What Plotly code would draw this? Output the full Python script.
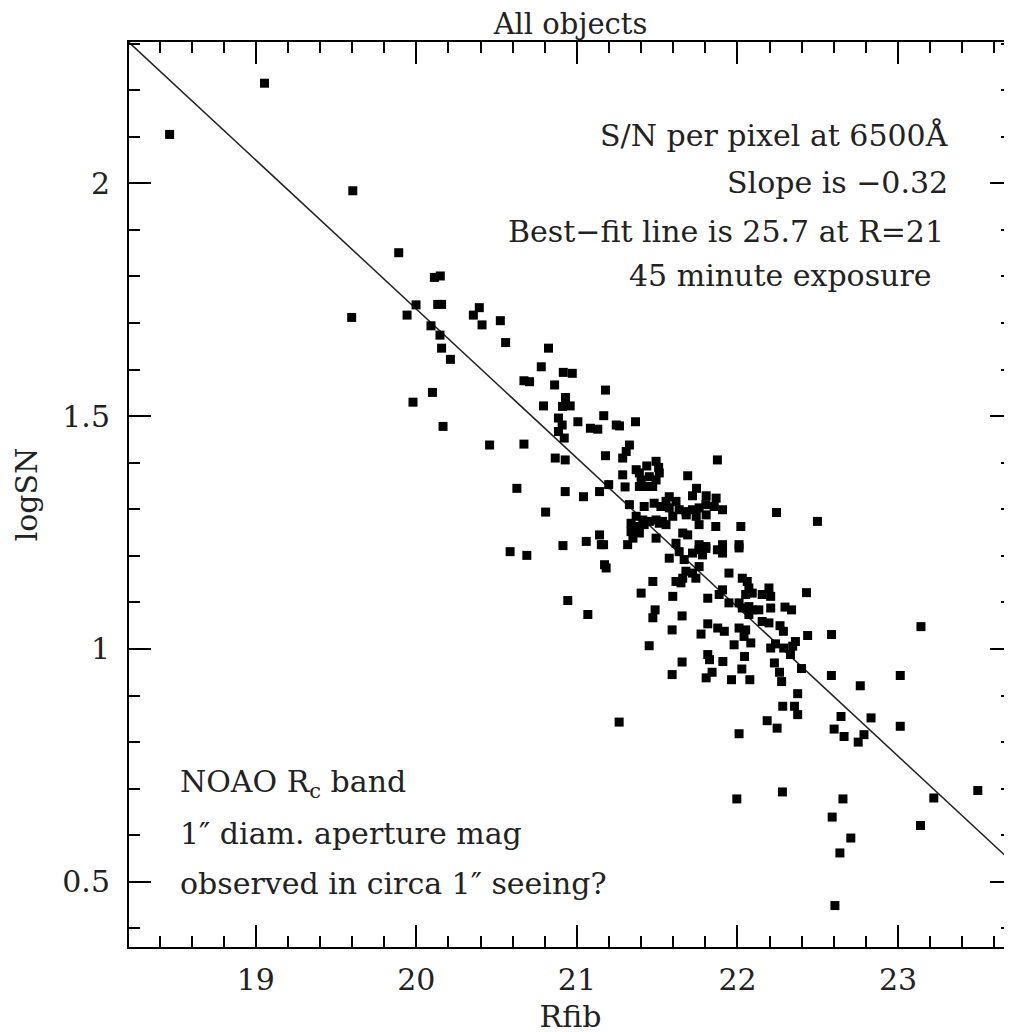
import math
import plotly.graph_objects as go

# ---- data ----
rfib = [
    18.463, 19.054, 19.604, 19.890, 20.112, 20.149, 19.597, 19.998, 19.942, 20.133,
    20.157, 20.091, 20.147, 20.157, 20.212, 20.355, 20.392, 20.409, 20.523, 20.556,
    20.823, 20.778, 20.915, 20.971, 20.670, 20.705, 20.861, 21.178, 20.100, 19.979,
    20.929, 20.910, 20.958, 20.792, 20.166, 20.885, 20.908, 20.885, 20.921, 21.006,
    21.167, 21.084, 21.130, 21.245, 21.265, 21.365, 20.456, 20.670, 20.865, 20.927,
    21.178, 21.327, 21.307, 21.285, 21.369, 21.285, 21.198, 21.141, 21.300, 20.626,
    20.927, 21.041, 21.327, 20.805, 21.875, 21.493, 21.435, 21.509, 21.513, 21.389,
    21.690, 21.400, 21.451, 21.493, 21.389, 21.431, 21.472, 21.745, 21.805, 21.867,
    21.720, 21.575, 21.617, 21.555, 21.419, 21.481, 21.523, 21.369, 21.410, 21.451,
    21.493, 21.534, 21.337, 21.378, 21.419, 21.575, 21.637, 21.679, 21.720, 21.761,
    21.803, 21.855, 21.907, 21.597, 21.681, 21.743, 21.805, 21.761, 21.865, 22.021,
    21.513, 21.555, 21.337, 21.389, 21.349, 21.141, 21.058, 21.152, 20.913, 21.316,
    21.493, 21.659, 21.690, 21.617, 21.761, 21.803, 21.907, 22.010, 21.172, 21.182,
    20.943, 21.068, 21.637, 21.575, 21.668, 21.720, 21.761, 21.803, 21.782, 21.875,
    21.907, 22.010, 21.761, 21.679, 21.720, 21.659, 21.617, 21.648, 21.741, 21.947,
    22.030, 22.061, 22.071, 22.092, 22.051, 22.196, 22.154, 22.207, 21.907, 21.886,
    21.473, 21.400, 21.597, 21.815, 21.947, 22.010, 22.030, 22.071, 22.092, 22.133,
    22.207, 22.071, 22.154, 22.196, 21.487, 21.473, 21.655, 21.593, 21.815, 21.877,
    21.918, 21.773, 22.010, 22.051, 22.041, 21.979, 22.083, 22.207, 21.450, 21.815,
    21.826, 21.909, 22.044, 22.230, 21.655, 22.027, 21.593, 21.805, 21.842, 21.963,
    22.077, 22.243, 22.498, 22.430, 22.296, 22.337, 22.265, 22.286, 22.437, 22.586,
    23.143, 22.237, 22.288, 22.361, 22.344, 22.330, 22.399, 22.262, 22.275, 22.585,
    22.765, 23.014, 22.375, 22.282, 22.355, 22.375, 22.645, 22.832, 22.185, 22.247,
    22.602, 22.664, 22.788, 23.014, 22.010, 22.752, 21.996, 22.280, 22.657, 22.590,
    22.706, 22.638, 22.607, 23.140, 23.223, 23.497, 20.584, 20.688, 21.166, 21.263,
]
log_sn = [
    2.105, 2.215, 1.984, 1.851, 1.798, 1.801, 1.712, 1.739, 1.717, 1.740,
    1.740, 1.694, 1.674, 1.646, 1.622, 1.717, 1.733, 1.696, 1.705, 1.658,
    1.646, 1.606, 1.594, 1.592, 1.576, 1.574, 1.567, 1.556, 1.551, 1.530,
    1.540, 1.521, 1.522, 1.522, 1.478, 1.496, 1.481, 1.467, 1.453, 1.488,
    1.501, 1.474, 1.472, 1.481, 1.479, 1.488, 1.438, 1.440, 1.410, 1.406,
    1.415, 1.438, 1.424, 1.410, 1.385, 1.374, 1.353, 1.338, 1.348, 1.345,
    1.338, 1.327, 1.310, 1.294, 1.406, 1.403, 1.393, 1.390, 1.378, 1.378,
    1.372, 1.363, 1.370, 1.363, 1.349, 1.349, 1.349, 1.345, 1.329, 1.324,
    1.329, 1.327, 1.317, 1.317, 1.306, 1.313, 1.306, 1.285, 1.277, 1.274,
    1.277, 1.274, 1.270, 1.263, 1.267, 1.303, 1.299, 1.295, 1.299, 1.303,
    1.310, 1.306, 1.299, 1.285, 1.288, 1.285, 1.288, 1.267, 1.263, 1.263,
    1.270, 1.267, 1.252, 1.249, 1.238, 1.245, 1.231, 1.224, 1.222, 1.224,
    1.238, 1.249, 1.245, 1.227, 1.224, 1.220, 1.224, 1.224, 1.181, 1.174,
    1.104, 1.074, 1.209, 1.195, 1.192, 1.206, 1.213, 1.216, 1.202, 1.213,
    1.206, 1.217, 1.177, 1.167, 1.163, 1.152, 1.145, 1.142, 1.152, 1.163,
    1.152, 1.145, 1.131, 1.120, 1.117, 1.131, 1.117, 1.113, 1.127, 1.117,
    1.145, 1.120, 1.113, 1.109, 1.099, 1.099, 1.088, 1.091, 1.084, 1.084,
    1.088, 1.074, 1.059, 1.056, 1.084, 1.067, 1.071, 1.041, 1.054, 1.045,
    1.038, 1.032, 1.045, 1.041, 1.027, 1.009, 1.013, 1.002, 1.007, 0.988,
    0.977, 0.973, 0.984, 0.970, 0.972, 0.957, 0.945, 0.938, 0.950, 0.934,
    0.934, 1.293, 1.274, 1.121, 1.090, 1.084, 1.050, 1.038, 1.029, 1.031,
    1.048, 1.011, 1.002, 1.016, 1.006, 0.988, 0.958, 0.950, 0.930, 0.943,
    0.921, 0.943, 0.904, 0.877, 0.877, 0.859, 0.855, 0.852, 0.846, 0.830,
    0.828, 0.812, 0.816, 0.834, 0.818, 0.800, 0.678, 0.693, 0.678, 0.639,
    0.594, 0.562, 0.449, 0.621, 0.680, 0.696, 1.209, 1.201, 1.224, 0.843,
]

fit_slope = -0.32
fit_sn_at_r21 = 25.7
fit_pivot = 21.0

x_range = [18.21, 23.71]
y_range = [0.360, 2.3035]
x_tickvals = [19, 20, 21, 22, 23]
y_tickvals = [0.5, 1, 1.5, 2]
y_ticktext = ["0.5", "1", "1.5", "2"]

fit_x = x_range
fit_y = [math.log10(fit_sn_at_r21) + fit_slope * (v - fit_pivot) for v in fit_x]

FONT = "DejaVu Serif"
TXT = "#222222"
FS = 30

# page layout (the page body adds an 8px offset)
W, H = 1006, 1032
ML, MR, MT, MB = 121, 0, 34, 93
PL, PT = ML + 8, MT + 8                 # plot-area left/top on the page
PW, PH = W - ML - MR, H - MT - MB       # plot-area size


def px_x(p):
    return (p - PL) / PW


def px_y(p):
    return 1 - (p - PT) / PH


fig = go.Figure()
fig.add_trace(go.Scatter(
    x=fit_x, y=fit_y, mode="lines",
    line=dict(color="#222222", width=1.5),
    hoverinfo="skip", showlegend=False,
))
fig.add_trace(go.Scatter(
    x=rfib, y=log_sn, mode="markers",
    marker=dict(symbol="square", size=9, color="black", line=dict(width=0)),
    showlegend=False,
))

axis_common = dict(
    showline=True, linecolor="black", linewidth=2, mirror="allticks",
    ticks="inside", ticklen=22, tickwidth=2, tickcolor="black",
    showgrid=False, zeroline=False,
    tickfont=dict(family=FONT, size=FS, color=TXT),
)

fig.update_xaxes(
    range=x_range, tickvals=x_tickvals, ticktext=[str(v) for v in x_tickvals],
    minor=dict(dtick=0.2, tick0=0, ticks="inside", ticklen=11, tickwidth=2,
               tickcolor="black", showgrid=False),
    ticklabelstandoff=5,
    title=dict(text="Rfib", font=dict(family=FONT, size=FS, color=TXT), standoff=10),
    **axis_common,
)
fig.update_yaxes(
    range=y_range, tickvals=y_tickvals, ticktext=y_ticktext,
    minor=dict(dtick=0.1, tick0=0, ticks="inside", ticklen=11, tickwidth=2,
               tickcolor="black", showgrid=False),
    ticklabelstandoff=11,
    title=dict(text="logSN", font=dict(family=FONT, size=FS, color=TXT), standoff=16),
    **axis_common,
)


def note(text, x, y, anchor):
    fig.add_annotation(
        text=text, x=px_x(x), y=px_y(y), xref="paper", yref="paper",
        xanchor=anchor, yanchor="middle", showarrow=False,
        font=dict(family=FONT, size=FS, color=TXT),
    )


note("S/N per pixel at 6500Å", 952, 135, "right")
note("Slope is −0.32", 952, 182, "right")
note("Best−fit line is 25.7 at R=21", 948, 231, "right")
note("45 minute exposure", 936, 275, "right")
note("NOAO R<sub>c</sub> band", 178, 783, "left")
note("1″ diam. aperture mag", 178, 833, "left")
note("observed in circa 1″ seeing?", 178, 883, "left")

fig.update_layout(
    width=W, height=H,
    margin=dict(l=ML, r=MR, t=MT, b=MB),
    paper_bgcolor="white", plot_bgcolor="white",
    title=dict(text="All objects", x=0.5, xref="paper", xanchor="center",
               y=1 - 16 / H, yanchor="middle", yref="container",
               font=dict(family=FONT, size=29, color=TXT)),
)

fig.write_html("out.html")
